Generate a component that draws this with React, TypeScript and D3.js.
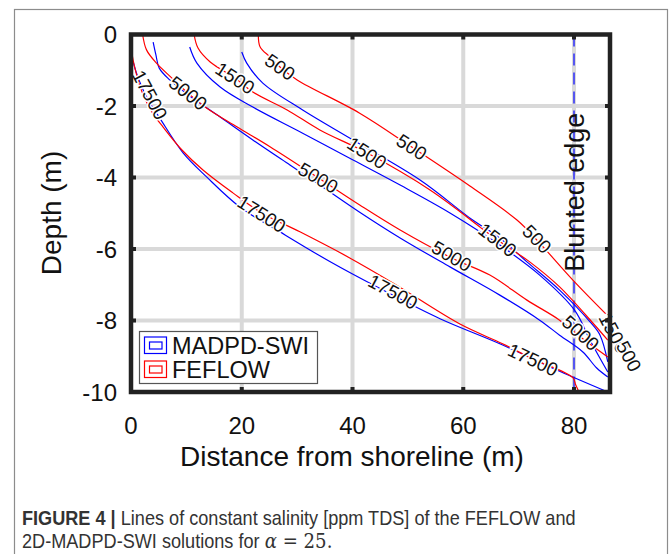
import React from 'react'
import * as d3 from 'd3'

// contour lines: [distance (m), depth (m)]
const madpd500 = [[20, -0.49], [20.9, -0.8], [23.8, -1.36], [31, -2.11], [40.1, -2.95], [52.2, -4.07], [61.7, -5.19], [66.6, -5.69], [71.5, -6.36], [77.4, -7.15], [82.9, -8.04], [84.7, -8.41], [86.1, -9.16]]
const feflow500 = [[23, 0], [23.3, -0.34], [25.1, -0.63], [26.9, -0.91], [30, -1.27], [41.3, -2.2], [50.7, -3.15], [61.2, -4.24], [69.7, -5.19], [73.3, -5.75], [79.8, -6.87], [86.1, -7.87]]
const madpd1500 = [[10.6, -0.35], [11.9, -0.8], [16.1, -1.47], [22, -2.03], [31, -2.76], [40.1, -3.51], [48.6, -4.21], [57.6, -4.99], [66.6, -5.89], [73.8, -6.73], [80.1, -7.71], [82.9, -8.55], [86.1, -9.44]]
const feflow1500 = [[11.4, 0], [12.1, -0.38], [14.3, -0.77], [18.8, -1.22], [22, -1.61], [28.2, -2.11], [34.1, -2.67], [42.6, -3.31], [54, -4.35], [66.2, -5.75], [72, -6.36], [77.4, -7.06], [83.4, -8.07], [86.1, -8.55]]
const madpd5000 = [[4, -0.21], [4.5, -0.57], [5.1, -0.94], [7, -1.27], [10.6, -1.72], [16.1, -2.31], [22, -2.95], [28.7, -3.65], [34.1, -4.21], [41.3, -4.97], [48.6, -5.69], [57.6, -6.5], [66.6, -7.29], [73.8, -7.99], [77.4, -8.41], [81.6, -8.88], [84.1, -9.33], [86.1, -9.58]]
const feflow5000 = [[2.1, 0], [2.8, -0.43], [4.6, -0.8], [7.4, -1.22], [10.3, -1.64], [13.7, -2.06], [19.1, -2.58], [25.1, -3.14], [33.8, -4.01], [41.3, -4.77], [48.6, -5.47], [57.9, -6.25], [64.8, -6.73], [71.5, -7.43], [77.4, -7.99], [81.4, -8.49], [86.1, -9.02]]
const madpd17500 = [[0.4, -0.77], [1.3, -1.22], [3.1, -1.83], [5.2, -2.34], [9.4, -3.31], [13.7, -3.99], [19.7, -4.83], [26.9, -5.52], [35.9, -6.35], [44.9, -7.1], [55.8, -7.95], [66.6, -8.65], [77.4, -9.42], [86.1, -10]]
const feflow17500 = [[0, -0.38], [0.7, -0.94], [2, -1.61], [3.8, -2.17], [5.8, -2.59], [9.2, -3.23], [13, -3.79], [18.4, -4.43], [23.6, -4.99], [30.5, -5.52], [39.5, -6.25], [47.3, -6.95], [59.4, -8.1], [67.1, -8.65], [72.6, -9.08], [79.8, -9.6], [80.3, -9.8], [80.9, -10]]

const madpdLines = [madpd500, madpd1500, madpd5000, madpd17500]
const feflowLines = [feflow500, feflow1500, feflow5000, feflow17500]

// contour labels: text, distance, depth, angle
const labelText = ['17500', '5000', '1500', '500', '1500', '500', '5000', '17500', '5000', '1500', '500', '17500', '17500', '5000', '1500', '500']
const labelX = [3.4, 10.3, 18.8, 26.9, 42.6, 50.7, 33.8, 23.6, 57.9, 66.2, 73.3, 47.3, 72.6, 81.2, 87.2, 89.9]
const labelY = [-1.69, -1.64, -1.22, -0.91, -3.31, -3.15, -4.01, -5.02, -6.2, -5.75, -5.72, -7.2, -9.1, -8.35, -8.35, -9.0]
const labelAngle = [62, 38, 33, 35, 33, 33, 30, 32, 30, 38, 45, 28, 25, 42, 62, 62]

const xTicks = [0, 20, 40, 60, 80]
const yTicks = [0, -2, -4, -6, -8, -10]
const bluntedEdge = 80
const legendNames = ['MADPD-SWI', 'FEFLOW']
const colors = ['#0000ff', '#ff0000']

export default function App() {
  const left = 131, right = 610, top = 34.5, bottom = 392
  const x = d3.scaleLinear().domain([0, 86.5]).range([left, right])
  const y = d3.scaleLinear().domain([0, -10]).range([top, bottom])
  const line = d3.line<number[]>().x(d => x(d[0])).y(d => y(d[1])).curve(d3.curveCatmullRom)
  const font = 'Liberation Sans, Arial, sans-serif'

  return (
    <svg width={670} height={554} style={{ position: 'absolute', left: 0, top: 0, background: '#fff' }}>
      <rect x={14.5} y={9.5} width={653} height={600} fill="none" stroke="#8c8c8c" strokeWidth={1.2} />
      <defs>
        <clipPath id="plot">
          <rect x={left} y={top} width={right - left} height={bottom - top} />
        </clipPath>
      </defs>
      <rect x={left} y={top} width={right - left} height={bottom - top} fill="#fff" />
      {/* grid */}
      {xTicks.slice(1).map(t => (
        <line key={'gx' + t} x1={x(t)} x2={x(t)} y1={top} y2={bottom} stroke="#d9d9d9" strokeWidth={4} />
      ))}
      {yTicks.slice(1, -1).map(t => (
        <line key={'gy' + t} x1={left} x2={right} y1={y(t)} y2={y(t)} stroke="#d9d9d9" strokeWidth={4} />
      ))}
      {/* blunted edge */}
      <line x1={x(bluntedEdge)} x2={x(bluntedEdge)} y1={top} y2={bottom} stroke="#0000ff" strokeWidth={1.2} strokeDasharray="12,7" />
      <text transform={`translate(${x(bluntedEdge) + 10},${(top + bottom) / 2 - 21}) rotate(-90)`} textAnchor="middle" fontFamily={font} fontSize={27} fill="#111">Blunted edge</text>
      {/* contours */}
      <g clipPath="url(#plot)" fill="none" strokeWidth={1.2}>
        {madpdLines.map((l, i) => <path key={'m' + i} d={line(l) || ''} stroke={colors[0]} />)}
        {feflowLines.map((l, i) => <path key={'f' + i} d={line(l) || ''} stroke={colors[1]} />)}
      </g>
      {labelText.map((t, i) => (
        <text key={'l' + i} transform={`translate(${x(labelX[i])},${y(labelY[i])}) rotate(${labelAngle[i]})`}
          textAnchor="middle" dy="0.35em" fontFamily={font} fontSize={19} fill="#111"
          stroke="#fff" strokeWidth={3} paintOrder="stroke">{t}</text>
      ))}
      {/* axes box and ticks */}
      {xTicks.slice(1).map(t => (
        <g key={'tx' + t}>
          <line x1={x(t)} x2={x(t)} y1={top} y2={top + 5} stroke="#222" strokeWidth={4} />
          <line x1={x(t)} x2={x(t)} y1={bottom} y2={bottom - 5} stroke="#222" strokeWidth={4} />
        </g>
      ))}
      {yTicks.slice(1, -1).map(t => (
        <g key={'ty' + t}>
          <line x1={left} x2={left + 5} y1={y(t)} y2={y(t)} stroke="#222" strokeWidth={4} />
          <line x1={right} x2={right - 5} y1={y(t)} y2={y(t)} stroke="#222" strokeWidth={4} />
        </g>
      ))}
      <rect x={left} y={top} width={right - left} height={bottom - top} fill="none" stroke="#222" strokeWidth={4.5} />
      {/* legend */}
      <rect x={139.5} y={331.5} width={178} height={52} fill="#fff" stroke="#555" strokeWidth={1.2} />
      {legendNames.map((n, i) => (
        <g key={n} transform={`translate(0,${i * 24})`}>
          <rect x={144.5} y={337} width={22} height={16.5} fill="none" stroke={colors[i]} strokeWidth={1.2} />
          <rect x={149.5} y={342} width={12.5} height={7} fill="none" stroke={colors[i]} strokeWidth={1.2} />
          <text x={172} y={354} fontFamily={font} fontSize={23.5} fill="#111">{n}</text>
        </g>
      ))}
      {/* tick labels */}
      {xTicks.map(t => (
        <text key={'xl' + t} x={x(t)} y={434} textAnchor="middle" fontFamily={font} fontSize={24} fill="#111">{t}</text>
      ))}
      {yTicks.map(t => (
        <text key={'yl' + t} x={117} y={y(t) + 8.5} textAnchor="end" fontFamily={font} fontSize={24} fill="#111">{t}</text>
      ))}
      <text x={352} y={466} textAnchor="middle" fontFamily={font} fontSize={28} fill="#111">Distance from shoreline (m)</text>
      <text transform={`translate(61,213) rotate(-90)`} textAnchor="middle" fontFamily={font} fontSize={28} fill="#111">Depth (m)</text>
      {/* caption */}
      <g transform="translate(22,0) scale(0.93,1)" fontFamily={font} fontSize={19.5} fill="#333">
        <text x={0} y={525}>
          <tspan fontWeight="bold">FIGURE 4 | </tspan>Lines of constant salinity [ppm TDS] of the FEFLOW and
        </text>
        <text x={0} y={548}>
          2D-MADPD-SWI solutions for <tspan fontFamily="DejaVu Serif, serif" fontStyle="italic">α</tspan>
          <tspan fontFamily="DejaVu Serif, serif"> = 25.</tspan>
        </text>
      </g>
    </svg>
  )
}
